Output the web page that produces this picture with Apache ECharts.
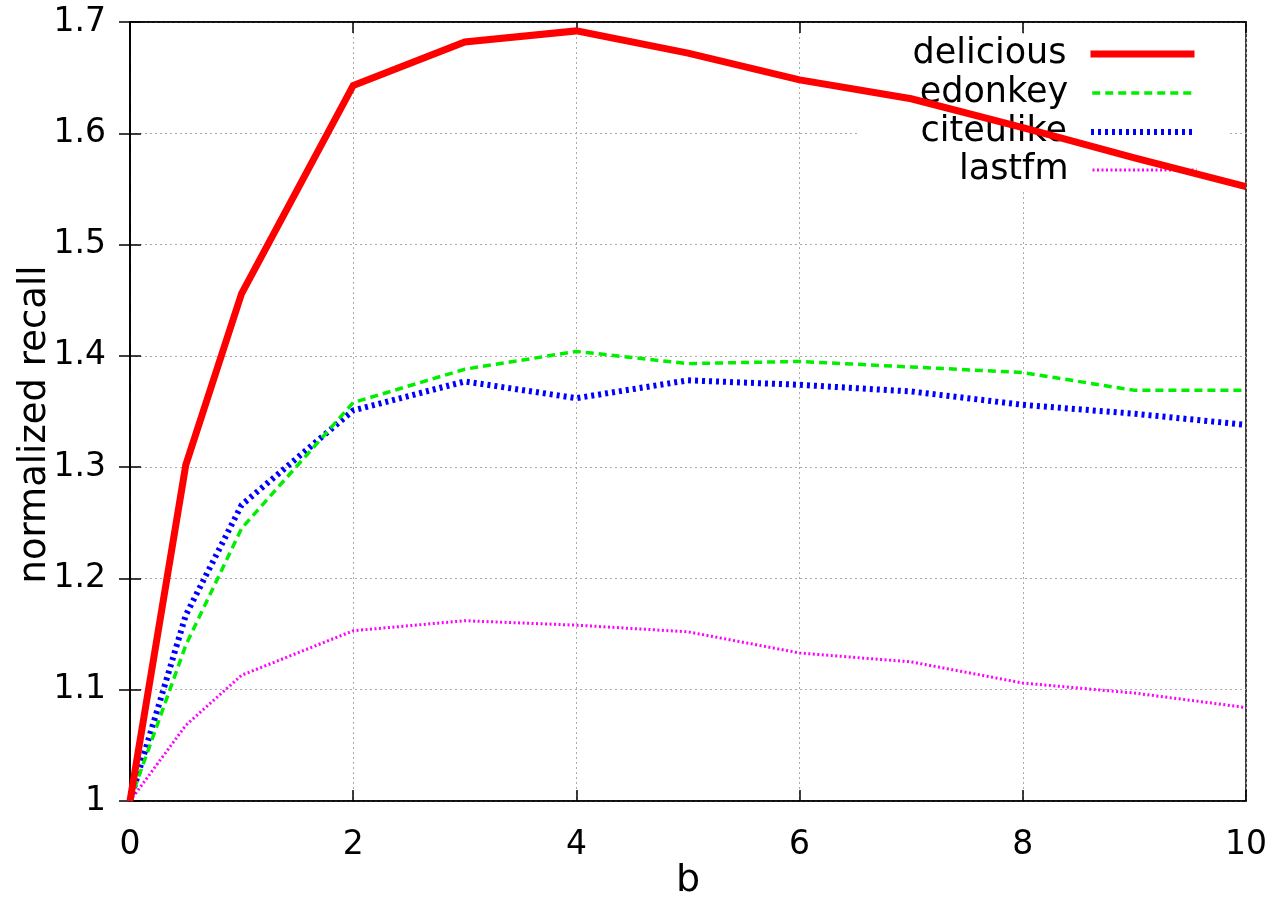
<!DOCTYPE html>
<html>
<head>
<meta charset="utf-8">
<script src="https://cdn.jsdelivr.net/npm/echarts@6/dist/echarts.min.js"></script>
<style>html,body{margin:0;padding:0;background:#fff}#c{width:1276px;height:897px}</style>
</head>
<body>
<div id="c"></div>
<script>
var bValues = [0, 0.5, 1, 2, 3, 4, 5, 6, 7, 8, 9, 10];
var delicious = [1.0, 1.302, 1.456, 1.643, 1.682, 1.692, 1.672, 1.648, 1.631, 1.605, 1.578, 1.552];
var edonkey   = [1.0, 1.140, 1.245, 1.358, 1.388, 1.404, 1.393, 1.395, 1.390, 1.385, 1.369, 1.369];
var citeulike = [1.0, 1.167, 1.266, 1.351, 1.377, 1.362, 1.378, 1.374, 1.368, 1.356, 1.348, 1.338];
var lastfm    = [1.0, 1.068, 1.113, 1.153, 1.162, 1.158, 1.152, 1.133, 1.125, 1.106, 1.097, 1.084];
var seriesNames = ['delicious', 'edonkey', 'citeulike', 'lastfm'];
var xTicks = [0, 2, 4, 6, 8, 10];
var yTicks = [1, 1.1, 1.2, 1.3, 1.4, 1.5, 1.6, 1.7];

var FONT = 'DejaVu Sans';
function pairs(ys){ return bValues.map(function(x,i){ return [x, ys[i]]; }); }

var styles = [
  {color:'#ff0000', width:7, type:'solid'},
  {color:'#00ee00', width:3.5, type:[8,5]},
  {color:'#0000ff', width:6, type:[3,4]},
  {color:'#ff00ff', width:3, type:[2,2.5]}
];
var datasets = [delicious, edonkey, citeulike, lastfm];

var legendTops = [36, 75, 114, 152];
var legends = seriesNames.map(function(n, i){
  return {
    data:[n], right:78, top:legendTops[i], orient:'vertical', align:'right',
    padding:0, itemWidth:104, itemHeight:14, selectedMode:false,
    itemStyle:{color:'rgba(0,0,0,0)', borderColor:'rgba(0,0,0,0)', borderWidth:0},
    lineStyle:{width:styles[i].width, type:styles[i].type, color:styles[i].color},
    textStyle:{fontFamily:FONT, fontSize:35, color:'#000', padding:[0,19,0,0], lineHeight:36}
  };
});

var chart = echarts.init(document.getElementById('c'), null, {renderer:'canvas'});
chart.setOption({
  animation:false,
  backgroundColor:'#fff',
  grid:{left:130, right:30, top:22, bottom:96, show:true, borderColor:'#000', borderWidth:1.5,
        containLabel:false, outerBoundsMode:'none'},
  legend: legends,
  graphic:{elements:[{type:'rect', z:1, shape:{x:860, y:34, width:370, height:156}, style:{fill:'#fff'}, silent:true}]},
  xAxis:[{
    type:'value', min:0, max:10, interval:2,
    name:'b', nameLocation:'middle', nameGap:61, nameMoveOverlap:false,
    nameTextStyle:{fontFamily:FONT, fontSize:38, color:'#000'},
    axisLine:{show:true, lineStyle:{color:'#000', width:1.5}},
    axisTick:{show:true, inside:true, length:11, lineStyle:{color:'#000', width:1.5}},
    axisLabel:{fontFamily:FONT, fontSize:33, color:'#000', margin:28,
      formatter:function(v){ return xTicks.indexOf(v) >= 0 ? String(v) : ''; }},
    splitLine:{show:true, lineStyle:{color:'#aaaaaa', type:[2,3], width:1}}
  },{
    type:'value', min:0, max:10, interval:2, position:'top',
    axisLine:{show:true, lineStyle:{color:'#000', width:1.5}},
    axisTick:{show:true, inside:true, length:11, lineStyle:{color:'#000', width:1.5}},
    axisLabel:{show:false}, splitLine:{show:false}
  }],
  yAxis:[{
    type:'value', min:1, max:1.7, interval:0.1,
    name:'normalized recall', nameLocation:'middle', nameGap:76, nameMoveOverlap:false,
    nameTextStyle:{fontFamily:FONT, fontSize:37, color:'#000', padding:[0,26,0,0]},
    axisLine:{show:true, lineStyle:{color:'#000', width:1.5}},
    axisTick:{show:true, inside:true, length:11, lineStyle:{color:'#000', width:1.5}},
    axisLabel:{fontFamily:FONT, fontSize:33, color:'#000', margin:24,
      formatter:function(v){ var r = Math.round(v*10)/10; return yTicks.indexOf(r) >= 0 ? String(r) : ''; }},
    splitLine:{show:true, lineStyle:{color:'#aaaaaa', type:[2,3], width:1}}
  },{
    type:'value', min:1, max:1.7, interval:0.1, position:'right',
    axisLine:{show:true, lineStyle:{color:'#000', width:1.5}},
    axisTick:{show:true, inside:true, length:11, lineStyle:{color:'#000', width:1.5}},
    axisLabel:{show:false}, splitLine:{show:false}
  }],
  series: seriesNames.map(function(n, i){
    return {
      name:n, type:'line', xAxisIndex:0, yAxisIndex:0, z: 2 + (seriesNames.length - i),
      data: pairs(datasets[i]), symbol:'none', showSymbol:false,
      color: styles[i].color,
      lineStyle:{color:styles[i].color, width:styles[i].width, type:styles[i].type, cap:'butt', join:'miter'}
    };
  })
});
</script>
</body>
</html>
